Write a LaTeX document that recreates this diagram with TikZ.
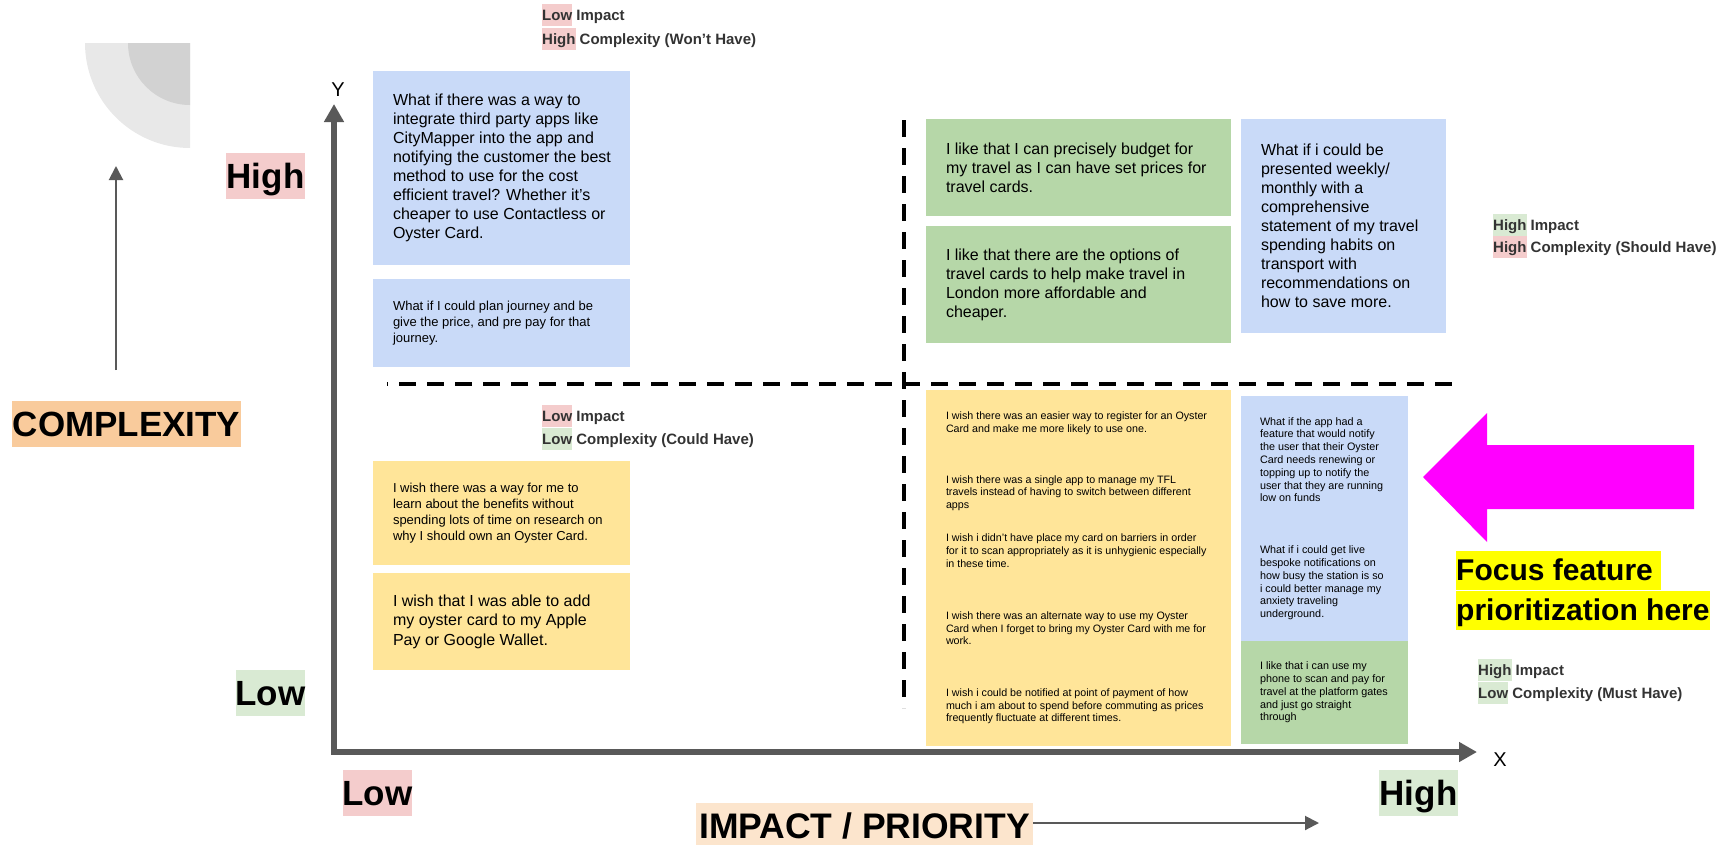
\documentclass[tikz,border=0pt]{standalone}
\usepackage{fontspec}
\setmainfont{Liberation Sans}
\usetikzlibrary{arrows.meta}
\definecolor{boxblue}{HTML}{C9DAF8}
\definecolor{boxgreen}{HTML}{B6D7A8}
\definecolor{boxyellow}{HTML}{FFE599}
\definecolor{hlpink}{HTML}{F4CCCC}
\definecolor{hlgreen}{HTML}{D9EAD3}
\definecolor{hlorange}{HTML}{F9CB9C}
\definecolor{hlpeach}{HTML}{FCE5CD}
\definecolor{axisgray}{HTML}{595959}
\definecolor{legendtext}{HTML}{333333}
\definecolor{decolight}{HTML}{E8E8E8}
\definecolor{decodark}{HTML}{D2D2D2}
\definecolor{focusyellow}{HTML}{FFFF00}
\definecolor{arrowmagenta}{HTML}{FF00FF}
\newcommand\hlword[2]{{\setlength{\fboxsep}{0pt}\colorbox{#1}{\rule[-6pt]{0pt}{22pt}#2}}}
\newcommand\focushl[1]{{\setlength{\fboxsep}{0pt}\colorbox{focusyellow}{\rule[-10pt]{0pt}{39pt}#1}}}
\tikzset{
  cardbox/.style={rectangle, inner sep=0pt, draw=none},
  cardtext/.style={anchor=west, align=left, inner sep=0pt, text=black},
  bigtext/.style={font=\fontsize{16pt}{19pt}\selectfont},
  midtext/.style={font=\fontsize{13pt}{16pt}\selectfont},
  smalltext/.style={font=\fontsize{10.7pt}{12.6pt}\selectfont},
  legendtxt/.style={anchor=north west, align=left, inner sep=0pt, text=legendtext},
  biglabel/.style={inner sep=0pt, minimum height=46pt, text height=26pt, text depth=2pt, text=black, font=\bfseries\fontsize{35pt}{40pt}\selectfont},
  axisline/.style={line width=6pt, draw=axisgray, {Triangle[length=18pt,width=19pt]}-{Triangle[length=18pt,width=19pt]}},
  thinarrow/.style={line width=2pt, draw=axisgray, -{Triangle[length=14pt,width=14pt]}},
  quadline/.style={line width=4pt, draw=black, dash pattern=on 17pt off 11pt},
  axislabel/.style={inner sep=0pt, font=\fontsize{20pt}{24pt}\selectfont}
}
\begin{document}
\begin{tikzpicture}[x=1pt,y=-1pt]
\useasboundingbox (0,0) rectangle (1732,844);

% decoration
\fill[decolight] (190,43) -- (85,43) arc[start angle=180, end angle=90, radius=105] -- cycle;
\fill[decodark] (190,43) -- (128,43) arc[start angle=180, end angle=90, radius=62] -- cycle;

% complexity arrow
\coordinate (ca1) at (116,370);
\coordinate (ca2) at (116,166);
\draw[thinarrow] (ca1) -- (ca2);

% big labels
\node[biglabel, fill=hlpink, minimum width=79pt] (highY) at (265.5,176) {High};
\node[biglabel, fill=hlgreen, minimum width=69pt] (lowY) at (270.5,693) {Low};
\node[biglabel, fill=hlpink, minimum width=69pt] (lowX) at (377.5,793) {Low};
\node[biglabel, fill=hlgreen, minimum width=79pt] (highX) at (1418.5,793) {High};
\node[biglabel, fill=hlorange, minimum width=229pt] (complexity) at (126.5,424) {COMPLEXITY};
\node[biglabel, fill=hlpeach, minimum width=337pt, font=\bfseries\fontsize{35.5pt}{40pt}\selectfont] (impact) at (864.5,826) {IMPACT / PRIORITY};
\coordinate (imptip) at (1319,823);
\draw[thinarrow] (impact.east |- imptip) -- (imptip);

% axes
\coordinate (ytip) at (334,104);
\coordinate (origin) at (334,752);
\coordinate (xtip) at (1477,752);
\draw[axisline] (ytip) -- (origin) -- (xtip);
\node[axislabel] (ylab) at (338,90) {Y};
\node[axislabel] (xlab) at (1500,760) {X};

% cards
\node[cardbox, fill=boxblue, minimum width=257pt, minimum height=194pt] (b1) at (501.5,168) {};
\node[cardtext, bigtext] (t1) at ([xshift=20pt]b1.west) {What if there was a way to\\integrate third party apps like\\CityMapper into the app and\\notifying the customer the best\\method to use for the cost\\efficient travel? Whether it’s\\cheaper to use Contactless or\\Oyster Card.};

\node[cardbox, fill=boxblue, minimum width=257pt, minimum height=88pt] (b2) at (501.5,323) {};
\node[cardtext, midtext] (t2) at ([xshift=20pt]b2.west) {What if I could plan journey and be\\give the price, and pre pay for that\\journey.};

\node[cardbox, fill=boxyellow, minimum width=257pt, minimum height=104pt] (y1) at (501.5,513) {};
\node[cardtext, midtext] (ty1) at ([xshift=20pt]y1.west) {I wish there was a way for me to\\learn about the benefits without\\spending lots of time on research on\\why I should own an Oyster Card.};

\node[cardbox, fill=boxyellow, minimum width=257pt, minimum height=97pt] (y2) at (501.5,621.5) {};
\node[cardtext, font=\fontsize{16pt}{19.5pt}\selectfont] (ty2) at ([xshift=20pt]y2.west) {I wish that I was able to add\\my oyster card to my Apple\\Pay or Google Wallet.};

\node[cardbox, fill=boxgreen, minimum width=305pt, minimum height=97pt] (g1) at (1078.5,167.5) {};
\node[cardtext, bigtext] (tg1) at ([xshift=20pt]g1.west) {I like that I can precisely budget for\\my travel as I can have set prices for\\travel cards.};

\node[cardbox, fill=boxgreen, minimum width=305pt, minimum height=117pt] (g2) at (1078.5,284.5) {};
\node[cardtext, bigtext] (tg2) at ([xshift=20pt]g2.west) {I like that there are the options of\\travel cards to help make travel in\\London more affordable and\\cheaper.};

\node[cardbox, fill=boxblue, minimum width=205pt, minimum height=214pt] (b3) at (1343.5,226) {};
\node[cardtext, bigtext] (tb3) at ([xshift=20pt]b3.west) {What if i could be\\presented weekly/\\monthly with a\\comprehensive\\statement of my travel\\spending habits on\\transport with\\recommendations on\\how to save more.};

\node[cardbox, fill=boxyellow, minimum width=305pt, minimum height=356pt] (y3) at (1078.5,568) {};
\node[cardtext, smalltext] (ty3) at ([xshift=20pt]y3.west) {I wish there was an easier way to register for an Oyster\\Card and make me more likely to use one.\\[38pt]I wish there was a single app to manage my TFL\\travels instead of having to switch between different\\apps\\[21pt]I wish i didn't have place my card on barriers in order\\for it to scan appropriately as it is unhygienic especially\\in these time.\\[40pt]I wish there was an alternate way to use my Oyster\\Card when I forget to bring my Oyster Card with me for\\work.\\[39pt]I wish i could be notified at point of payment of how\\much i am about to spend before commuting as prices\\frequently fluctuate at different times.};

\node[cardbox, fill=boxblue, minimum width=167pt, minimum height=245pt] (b4) at (1324.5,518.5) {};
\node[cardtext, font=\fontsize{10.8pt}{12.8pt}\selectfont] (tb4) at ([xshift=19pt]b4.west) {What if the app had a\\feature that would notify\\the user that their Oyster\\Card needs renewing or\\topping up to notify the\\user that they are running\\low on funds\\[39pt]What if i could get live\\bespoke notifications on\\how busy the station is so\\i could better manage my\\anxiety traveling\\underground.};

\node[cardbox, fill=boxgreen, minimum width=167pt, minimum height=103pt] (g3) at (1324.5,692.5) {};
\node[cardtext, font=\fontsize{10.8pt}{12.8pt}\selectfont] (tg3) at ([xshift=19pt]g3.west) {I like that i can use my\\phone to scan and pay for\\travel at the platform gates\\and just go straight\\through};

% quadrant dividers
\coordinate (hd1) at (387,384);
\coordinate (hd2) at (1452,384);
\draw[quadline, dash phase=16pt] (hd1) -- (hd2);
\coordinate (vd1) at (904,120);
\coordinate (vd2) at (904,708);
\draw[quadline] (vd1) -- (vd2);

% legends
\node[legendtxt, font=\bfseries\fontsize{15pt}{24pt}\selectfont] (leg1) at (542,4) {\hlword{hlpink}{Low} Impact\\\hlword{hlpink}{High} Complexity (Won’t Have)};
\node[legendtxt, font=\bfseries\fontsize{15pt}{22pt}\selectfont] (leg2) at (1493,214) {\hlword{hlgreen}{High} Impact\\\hlword{hlpink}{High} Complexity (Should Have)};
\node[legendtxt, font=\bfseries\fontsize{15pt}{23pt}\selectfont] (leg3) at (542,405) {\hlword{hlpink}{Low} Impact\\\hlword{hlgreen}{Low} Complexity (Could Have)};
\node[legendtxt, font=\bfseries\fontsize{15pt}{23pt}\selectfont] (leg4) at (1478,659) {\hlword{hlgreen}{High} Impact\\\hlword{hlgreen}{Low} Complexity (Must Have)};

% focus arrow
\fill[arrowmagenta] (1694,445) -- (1487,445) -- (1487,413) -- (1423,477) -- (1487,542) -- (1487,509) -- (1694,509) -- cycle;
\node[anchor=north west, inner sep=0pt, align=left, text=black, font=\bfseries\fontsize{30pt}{38pt}\selectfont] (focus) at (1456,551) {\focushl{Focus feature\ }\\\focushl{prioritization here}};
\end{tikzpicture}
\end{document}
